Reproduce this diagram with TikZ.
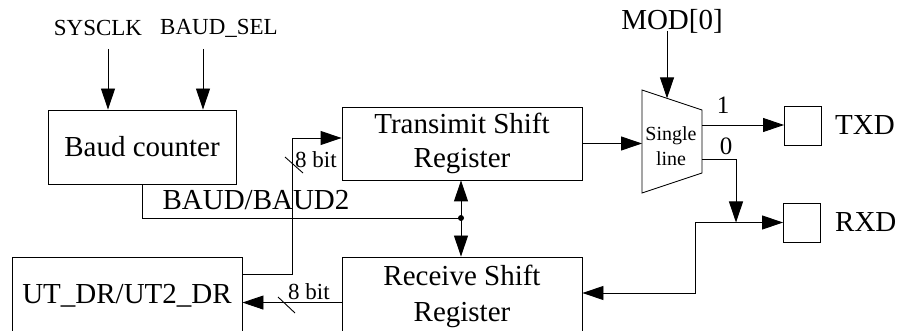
\documentclass[tikz,border=0pt]{standalone}
\usepackage{fontspec}
\setmainfont{Liberation Serif}
\usetikzlibrary{arrows.meta, positioning, calc}

\begin{document}
\begin{tikzpicture}[
    x=1pt, y=-1pt,
    every node/.style={font=\fontsize{29}{34}\selectfont, inner sep=0pt}, % 统一字体
    blk/.style={draw, line width=0.9pt, align=center}, % 功能模块框
    pin/.style={draw, line width=0.9pt, minimum width=37pt, minimum height=39pt}, % 引脚小方框
    wire/.style={line width=0.9pt}, % 连线
    sig/.style={wire, -{Triangle[length=21pt, width=14pt]}}, % 带箭头的信号线
    lbl/.style={font=\fontsize{23}{26}\selectfont}, % 小号标注
    muxtxt/.style={font=\fontsize{20}{25}\selectfont, align=center} % 选择器文字
]
    \useasboundingbox (0,0) rectangle (897,331);

    % 1. 模块
    \node[blk, minimum width=188pt, minimum height=74pt] (baud) at (142,147) {Baud counter};
    \node[blk, minimum width=240pt, minimum height=73pt] (tx) at (462,143.5) {Transimit Shift\\Register};
    \node[blk, minimum width=240pt, minimum height=78pt, font=\fontsize{29}{36}\selectfont] (rx) at (462,296) {Receive Shift\\Register};
    \node[blk, minimum width=230pt, minimum height=78pt] (utdr) at (127,296) {UT\_DR/UT2\_DR};
    \node[pin] (txd) at (803,125.5) {};
    \node[pin] (rxd) at (802,222.5) {};
    \node (txdl) [right=13pt of txd] {TXD};
    \node (rxdl) [right=14pt of rxd] {RXD};

    % 2. 输入信号
    \node[lbl] (sysclk) at (98,28) {SYSCLK};
    \node[lbl] (bsel) at (219,28) {BAUD\_SEL};
    \node (mod) at (672,21) {MOD[0]};
    \coordinate (clk) at (108,49);
    \coordinate (sel) at (203,49);
    \draw[sig] (clk) -- (clk |- baud.north);
    \draw[sig] (sel) -- (sel |- baud.north);

    % 3. 选择器(梯形)
    \coordinate (mtl) at (642,90);
    \coordinate (mbl) at (642,193);
    \coordinate (mtr) at (702,110);
    \coordinate (mbr) at (702,173);
    \draw[wire] (mtl) -- (mtr) -- (mbr) -- (mbl) -- cycle;
    \node[muxtxt] (mux) at (671,146) {Single\\line};
    \coordinate (msel) at ($(mtl)!0.417!(mtr)$);
    \draw[sig] (msel |- 0,31) -- (msel);
    \draw[sig] (tx.east) -- (tx.east -| mtl);

    % 4. 选择器输出
    \coordinate (mo1) at (702,125);
    \coordinate (mo0) at (702,159);
    \coordinate (mrg) at (736,222.5);
    \draw[sig] (mo1) -- (mo1 -| txd.west);
    \draw[sig] (mo0) -| (mrg);
    \node[font=\fontsize{25}{28}\selectfont] (one) at (723,105) {1};
    \node[font=\fontsize{25}{28}\selectfont] (zero) at (726,146) {0};

    % 5. RXD 接收路径
    \coordinate (rj) at (695,222.5);
    \draw[sig] (rj) -- (rxd.west);
    \draw[sig] (rj) |- ($(rx.east)+(0,-3)$);

    % 6. 波特率总线
    \coordinate (bdot) at (461,218);
    \draw[wire] (baud.south) |- (bdot);
    \fill (bdot) circle (3pt);
    \draw[sig] (bdot) -- (bdot |- tx.south);
    \draw[sig] (bdot) -- (bdot |- rx.north);
    \node (baudl) at (256,200) {BAUD/BAUD2};

    % 7. 8 bit 数据线
    \coordinate (dout) at ($(utdr.north east)+(0,18)$);
    \coordinate (dbend) at (292,138);
    \draw[sig] (dout) -| (dbend) -- (dbend -| tx.west);
    \draw[wire] (285,157) -- (303,173);
    \node[lbl] (bitup) at (316,160) {8 bit};

    \coordinate (rin) at ($(rx.north west)+(0,46)$);
    \draw[sig] (rin) -- (rin -| utdr.east);
    \draw[wire] (278,297) -- (295,313);
    \node[lbl] (bitdn) at (309,292) {8 bit};

\end{tikzpicture}
\end{document}
